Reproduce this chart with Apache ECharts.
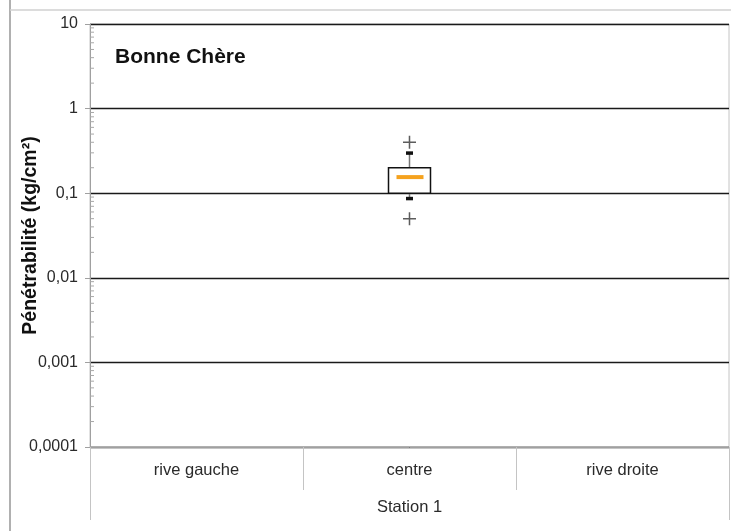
<!DOCTYPE html>
<html>
<head>
<meta charset="utf-8">
<script src="https://cdn.jsdelivr.net/npm/echarts@6/dist/echarts.min.js"></script>
<style>
html,body{margin:0;padding:0;background:#fff;}
#chart{width:731px;height:531px;}
</style>
</head>
<body>
<div id="chart"></div>
<script>
// ---- data ----
var categories = ['rive gauche', 'centre', 'rive droite'];
var groupLabel = ['Station 1'];
// [category index, lower whisker, Q1, median, Q3, upper whisker]
var boxValues = [[1, 0.087, 0.1, 0.155, 0.2, 0.3]];
// outliers [category index, value]
var outlierValues = [[1, 0.4], [1, 0.05]];
var yTickLabels = {'-4': '0,0001', '-3': '0,001', '-2': '0,01', '-1': '0,1', '0': '1', '1': '10'};
var minorTickMultipliers = [2, 3, 4, 5, 6, 7, 8, 9];
var decades = [0.0001, 0.001, 0.01, 0.1, 1];

var minorTickValues = [];
decades.forEach(function (d) {
  minorTickMultipliers.forEach(function (m) { minorTickValues.push([0, d * m]); });
});

var FONT = '"Liberation Sans", Arial, sans-serif';
var chart = echarts.init(document.getElementById('chart'));

var option = {
  animation: false,
  backgroundColor: '#fff',
  textStyle: { fontFamily: FONT },
  title: {
    text: 'Bonne Chère',
    left: 110, top: 42,
    textStyle: { fontFamily: FONT, fontSize: 21, fontWeight: 'bold', color: '#111' }
  },
  graphic: [
    { type: 'line', shape: { x1: 10, y1: 0, x2: 10, y2: 531 }, style: { stroke: '#b0b0b0', lineWidth: 2 } },
    { type: 'line', shape: { x1: 10, y1: 10, x2: 731, y2: 10 }, style: { stroke: '#d0d0d0', lineWidth: 1.5 } }
  ],
  grid: {
    left: 90, right: 2, top: 24, bottom: 84,
    show: true, borderColor: '#c4c4c4', borderWidth: 1, backgroundColor: 'transparent'
  },
  xAxis: [
    {
      type: 'category',
      data: categories,
      boundaryGap: true,
      axisLine: { show: true, lineStyle: { color: '#a0a0a0', width: 1 } },
      axisTick: { show: true, interval: 0, length: 43, lineStyle: { color: '#c4c4c4' } },
      axisLabel: { margin: 15, fontSize: 16.5, color: '#2a2a2a', fontFamily: FONT },
      splitLine: { show: false }
    },
    {
      type: 'category',
      data: groupLabel,
      position: 'bottom',
      offset: 43,
      boundaryGap: true,
      axisLine: { show: false },
      axisTick: { show: true, interval: 0, length: 30, lineStyle: { color: '#c4c4c4' } },
      axisLabel: { margin: 9, fontSize: 16.5, color: '#2a2a2a', fontFamily: FONT },
      splitLine: { show: false }
    }
  ],
  yAxis: {
    type: 'log',
    logBase: 10,
    min: 0.0001,
    max: 10,
    name: 'Pénétrabilité (kg/cm²)',
    nameLocation: 'middle',
    nameGap: 49,
    nameMoveOverlap: false,
    nameRotate: 90,
    nameTextStyle: { fontFamily: FONT, fontSize: 19.5, fontWeight: 'bold', color: '#111' },
    axisLine: { show: true, lineStyle: { color: '#a0a0a0', width: 1 } },
    axisTick: { show: true, length: 5, lineStyle: { color: '#a0a0a0' } },
    axisLabel: {
      margin: 12, fontSize: 16, color: '#2a2a2a', fontFamily: FONT,
      formatter: function (v) {
        var k = Math.round(Math.log10(v));
        return yTickLabels[String(k)] || '';
      }
    },
    splitLine: { show: true, lineStyle: { color: '#1a1a1a', width: 1.3 } }
  },
  series: [
    {
      type: 'custom',
      name: 'minorTicks',
      silent: true,
      xAxisIndex: 0,
      data: minorTickValues,
      renderItem: function (params, api) {
        var pt = api.coord([0, api.value(1)]);
        var x0 = params.coordSys.x;
        return {
          type: 'line',
          shape: { x1: x0, y1: pt[1], x2: x0 + 4, y2: pt[1] },
          style: { stroke: '#a8a8a8', lineWidth: 1 }
        };
      }
    },
    {
      type: 'custom',
      name: 'box',
      xAxisIndex: 0,
      data: boxValues,
      encode: { x: 0, y: [1, 2, 3, 4, 5] },
      renderItem: function (params, api) {
        var c = api.value(0);
        var pLow = api.coord([c, api.value(1)]);
        var pQ1 = api.coord([c, api.value(2)]);
        var pMed = api.coord([c, api.value(3)]);
        var pQ3 = api.coord([c, api.value(4)]);
        var pHigh = api.coord([c, api.value(5)]);
        var x = pMed[0];
        var hw = 21;
        return {
          type: 'group',
          children: [
            { type: 'line', shape: { x1: x, y1: pQ3[1], x2: x, y2: pHigh[1] }, style: { stroke: '#777', lineWidth: 1.5 } },
            { type: 'line', shape: { x1: x, y1: pQ1[1], x2: x, y2: pLow[1] }, style: { stroke: '#777', lineWidth: 1.5 } },
            { type: 'rect', shape: { x: x - 3.5, y: pHigh[1] - 1.5, width: 7, height: 3.5 }, style: { fill: '#111' } },
            { type: 'rect', shape: { x: x - 3.5, y: pLow[1] - 1.5, width: 7, height: 3.5 }, style: { fill: '#111' } },
            { type: 'rect', shape: { x: x - hw, y: pQ3[1], width: 2 * hw, height: pQ1[1] - pQ3[1] }, style: { fill: '#fff', stroke: '#111', lineWidth: 1.5 } },
            { type: 'rect', shape: { x: x - 13, y: pMed[1] - 2, width: 27, height: 4 }, style: { fill: '#f5a21e' } }
          ]
        };
      }
    },
    {
      type: 'scatter',
      name: 'outliers',
      xAxisIndex: 0,
      data: outlierValues,
      symbol: 'path://M5.3,0 L6.7,0 L6.7,5.3 L12,5.3 L12,6.7 L6.7,6.7 L6.7,12 L5.3,12 L5.3,6.7 L0,6.7 L0,5.3 L5.3,5.3 Z',
      symbolSize: 13,
      itemStyle: { color: '#333' }
    }
  ]
};
chart.setOption(option);
</script>
</body>
</html>
